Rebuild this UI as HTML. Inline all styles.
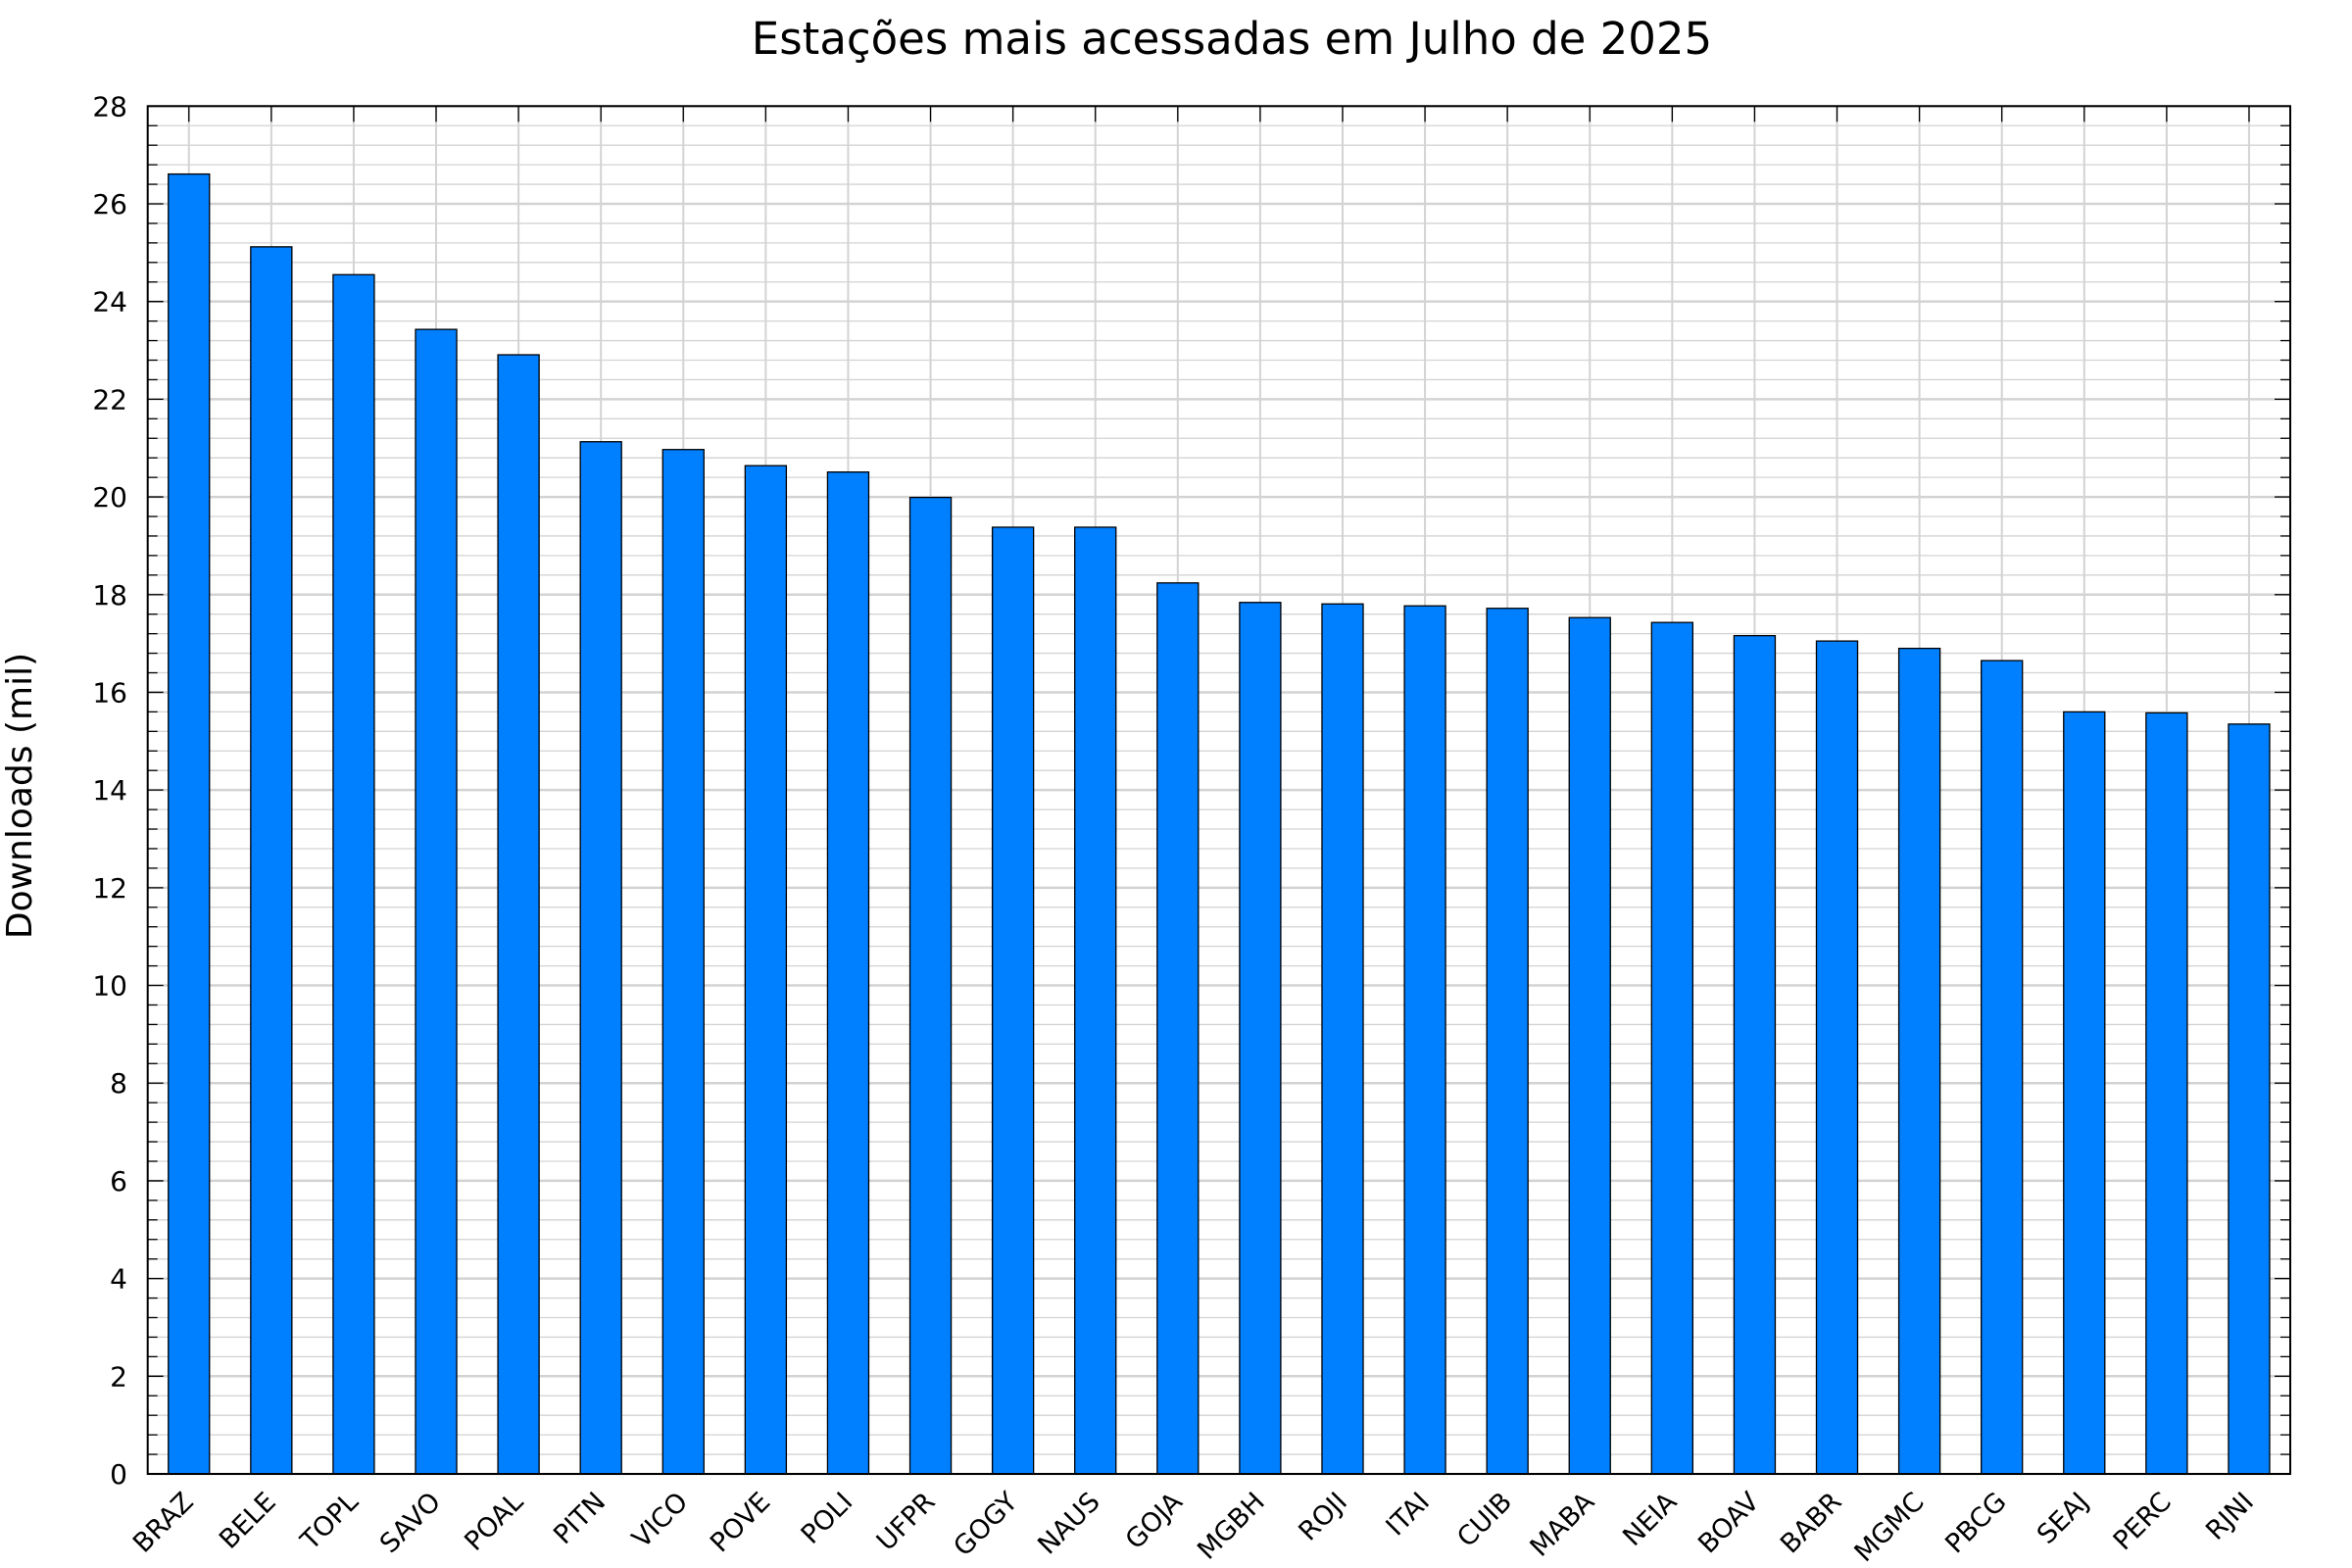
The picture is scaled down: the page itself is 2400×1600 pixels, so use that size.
<!DOCTYPE html>
<html><head><meta charset="utf-8"><style>
html,body{margin:0;padding:0;background:#fff;}
svg{display:block;font-family:"DejaVu Sans","Liberation Sans",sans-serif;}
</style></head><body>
<svg id="chart" width="2400" height="1600" viewBox="0 0 2400 1600" xmlns="http://www.w3.org/2000/svg">
<rect width="2400" height="1600" fill="#fff"/>
<text x="1257" y="55" font-size="45" text-anchor="middle">Estações mais acessadas em Julho de 2025</text>
<text transform="translate(32,812) rotate(-90)" font-size="36" text-anchor="middle">Downloads (mil)</text>
<g id="grid"></g>
<g id="bars"></g>
<g id="axes"></g>
</svg>
<script>
const categories = ["BRAZ","BELE","TOPL","SAVO","POAL","PITN","VICO","POVE","POLI","UFPR","GOGY","NAUS","GOJA","MGBH","ROJI","ITAI","CUIB","MABA","NEIA","BOAV","BABR","MGMC","PBCG","SEAJ","PERC","RJNI"];
const values = [26.61,25.12,24.55,23.43,22.91,21.13,20.97,20.64,20.51,19.99,19.38,19.38,18.24,17.84,17.81,17.77,17.72,17.53,17.43,17.16,17.05,16.90,16.65,15.60,15.58,15.35];
const yTicks = [0,2,4,6,8,10,12,14,16,18,20,22,24,26,28];
const yMax = 28;

const NS="http://www.w3.org/2000/svg";
const L=150.7,R=2337,T=108.3,B=1504;
const band=(R-L)/categories.length;
function xC(i){return L+band*(i+0.5);}
function yS(v){return B-(v/yMax)*(B-T);}
function mk(tag,attrs,parent){const e=document.createElementNS(NS,tag);for(const k in attrs)e.setAttribute(k,attrs[k]);parent.appendChild(e);return e;}
const grid=document.getElementById('grid'),bars=document.getElementById('bars'),axes=document.getElementById('axes');

// minor horizontal grid
for(let v=0;v<=yMax+1e-9;v+=0.4){
  const major=Math.abs(v/2-Math.round(v/2))<1e-6;
  const ln=mk('line',{x1:L,x2:R,y1:yS(v),y2:yS(v),stroke:'#d3d3d3','stroke-width':major?2.5:1.3},grid);
  
  
  const len=major?16:10;
  const t1=mk('line',{x1:L,x2:L+len,y1:yS(v),y2:yS(v),stroke:'#000','stroke-width':1.3},axes);
  
  
  const t2=mk('line',{x1:R,x2:R-len,y1:yS(v),y2:yS(v),stroke:'#000','stroke-width':1.3},axes);
  
  
}
categories.forEach((c,i)=>{
  const g=mk('line',{x1:xC(i),x2:xC(i),y1:T,y2:B,stroke:'#d3d3d3','stroke-width':2},grid);
  
  
  const tk=mk('line',{x1:xC(i),x2:xC(i),y1:T,y2:T+16,stroke:'#000','stroke-width':1.3},axes);
  
  
  const w=band*0.5;
  const b=mk('rect',{x:xC(i)-w/2,y:yS(values[i]),width:w,height:B-yS(values[i]),fill:'#007fff',stroke:'#000','stroke-width':1.3},bars);
  
  
  const tx=xC(i)+6,ty=1534;
  const lb=mk('text',{x:tx,y:ty,'font-size':27,'text-anchor':'end',transform:`rotate(-45 ${tx} ${ty})`},axes);
  lb.textContent=c;
  
  
});
yTicks.forEach(v=>{
  const t=mk('text',{x:130,y:yS(v)+10,'font-size':28,'text-anchor':'end'},axes);
  t.textContent=String(v);
  
  
});
const frame=mk('rect',{x:L,y:T,width:R-L,height:B-T,fill:'none',stroke:'#000','stroke-width':2},axes);


</script>
</body></html>
